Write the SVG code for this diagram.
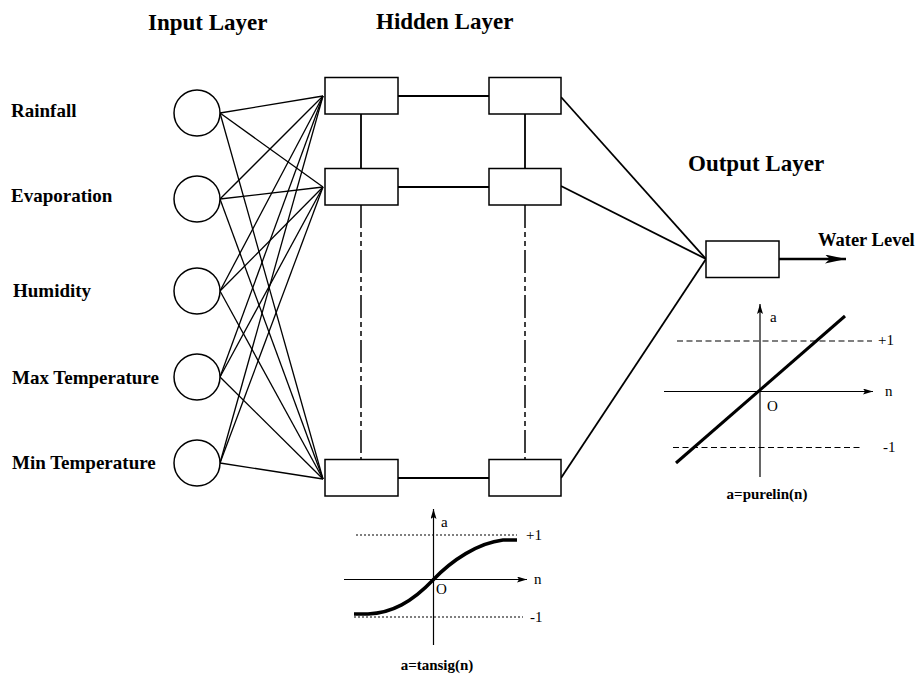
<svg xmlns="http://www.w3.org/2000/svg" width="917" height="676" viewBox="0 0 917 676">
<defs>
<style>
.title{font-family:"Liberation Serif","Times New Roman",serif;font-weight:bold;font-size:23px;fill:#000}
.lbl{font-family:"Liberation Serif","Times New Roman",serif;font-weight:bold;font-size:19px;fill:#000}
.fn{font-family:"Liberation Serif","Times New Roman",serif;font-weight:bold;font-size:15px;fill:#000}
.ax{font-family:"Liberation Serif","Times New Roman",serif;font-size:15px;fill:#000}
.node{fill:#fff;stroke:#000;stroke-width:1.5}
.edge{stroke:#000;stroke-width:1.3;fill:none}
.link{stroke:#000;stroke-width:1.8;fill:none}
.dd{stroke:#000;stroke-width:1.5;fill:none;stroke-dasharray:23 4 5 4 5 4}
.axis{stroke:#000;stroke-width:1.2;fill:none}
.dash{stroke:#000;stroke-width:1.2;fill:none;stroke-dasharray:6 3.5}
.dot{stroke:#000;stroke-width:1.2;fill:none;stroke-dasharray:2 2}
.curve{stroke:#000;stroke-width:3.5;fill:none}
</style>
<marker id="ah" viewBox="0 0 10 6" refX="10" refY="3" markerWidth="10" markerHeight="6" markerUnits="userSpaceOnUse" orient="auto">
<path d="M0,0 L10,3 L0,6 L2,3 Z" fill="#000"/>
</marker>
<marker id="ahBig" viewBox="0 0 21 9" refX="21" refY="4.5" markerWidth="21" markerHeight="9" markerUnits="userSpaceOnUse" orient="auto">
<path d="M0,0 L21,4.5 L0,9 L5,4.5 Z" fill="#000"/>
</marker>
</defs>
<rect width="917" height="676" fill="#fff"/>

<text class="title" x="148" y="30">Input Layer</text>
<text class="title" x="376" y="29">Hidden Layer</text>
<text class="title" x="688" y="171">Output Layer</text>

<g id="connectors">
<line class="edge" x1="220" y1="113" x2="323" y2="96"/>
<line class="edge" x1="220" y1="113" x2="323" y2="187"/>
<line class="edge" x1="220" y1="113" x2="323" y2="479"/>
<line class="edge" x1="220" y1="199" x2="323" y2="96"/>
<line class="edge" x1="220" y1="199" x2="323" y2="187"/>
<line class="edge" x1="220" y1="199" x2="323" y2="479"/>
<line class="edge" x1="220" y1="291" x2="323" y2="96"/>
<line class="edge" x1="220" y1="291" x2="323" y2="187"/>
<line class="edge" x1="220" y1="291" x2="323" y2="479"/>
<line class="edge" x1="220" y1="377" x2="323" y2="96"/>
<line class="edge" x1="220" y1="377" x2="323" y2="187"/>
<line class="edge" x1="220" y1="377" x2="323" y2="479"/>
<line class="edge" x1="220" y1="463" x2="323" y2="96"/>
<line class="edge" x1="220" y1="463" x2="323" y2="187"/>
<line class="edge" x1="220" y1="463" x2="323" y2="479"/>
<line class="link" x1="398" y1="96" x2="489" y2="96"/>
<line class="link" x1="398" y1="187" x2="489" y2="187"/>
<line class="link" x1="398" y1="478" x2="489" y2="478"/>
<line class="link" x1="361" y1="114" x2="361" y2="168"/>
<line class="link" x1="525" y1="114" x2="525" y2="168"/>
<line class="dd" x1="361" y1="205" x2="361" y2="459"/>
<line class="dd" x1="525" y1="205" x2="525" y2="459"/>
<line class="link" x1="561" y1="97" x2="706" y2="259"/>
<line class="link" x1="561" y1="186" x2="706" y2="259"/>
<line class="link" x1="561" y1="478" x2="706" y2="259"/>
<line x1="779" y1="259" x2="846" y2="259" stroke="#000" stroke-width="2.4" marker-end="url(#ahBig)"/>
</g>

<g id="in1"><circle class="node" cx="197" cy="113" r="23"/><text class="lbl" x="11" y="117">Rainfall</text></g>
<g id="in2"><circle class="node" cx="197" cy="199" r="23"/><text class="lbl" x="11" y="202">Evaporation</text></g>
<g id="in3"><circle class="node" cx="197" cy="291" r="23"/><text class="lbl" x="13" y="297">Humidity</text></g>
<g id="in4"><circle class="node" cx="197" cy="377" r="23"/><text class="lbl" x="12" y="384">Max Temperature</text></g>
<g id="in5"><circle class="node" cx="197" cy="463" r="23"/><text class="lbl" x="12" y="469">Min Temperature</text></g>

<g id="h11"><rect class="node" x="325" y="77.5" width="73" height="36.5"/></g>
<g id="h12"><rect class="node" x="325" y="168.5" width="73" height="36.5"/></g>
<g id="h1n"><rect class="node" x="325" y="459.5" width="73" height="36.5"/></g>
<g id="h21"><rect class="node" x="489" y="77.5" width="72" height="36.5"/></g>
<g id="h22"><rect class="node" x="489" y="168.5" width="72" height="36.5"/></g>
<g id="h2n"><rect class="node" x="489" y="459.5" width="72" height="36.5"/></g>

<g id="out"><rect class="node" x="706" y="241" width="73" height="36.5"/><text class="lbl" x="818" y="246" style="font-size:18.5px">Water Level</text></g>

<g id="tansig">
<line class="dot" x1="356" y1="535" x2="517" y2="535"/>
<line class="dot" x1="354" y1="617" x2="523" y2="617"/>
<line class="axis" x1="433.5" y1="645" x2="433.5" y2="509" marker-end="url(#ah)"/>
<line class="axis" x1="344" y1="579.5" x2="527" y2="579.5" marker-end="url(#ah)"/>
<path class="curve" d="M354,614 L368,614 C392,613 412,602 433,580 C452,560 478,543 503,540 L517,540"/>
<text class="ax" x="441" y="527">a</text>
<text class="ax" x="534" y="584">n</text>
<text class="ax" x="436" y="594">O</text>
<text class="ax" x="526" y="540">+1</text>
<text class="ax" x="530" y="622">-1</text>
<text class="fn" x="437" y="670" text-anchor="middle">a=tansig(n)</text>
</g>

<g id="purelin">
<line class="dash" x1="677" y1="341" x2="872" y2="341"/>
<line class="dash" x1="673" y1="447.5" x2="862" y2="447.5"/>
<line class="axis" x1="760" y1="477" x2="760" y2="304" marker-end="url(#ah)"/>
<line class="axis" x1="664" y1="391.5" x2="873" y2="391.5" marker-end="url(#ah)"/>
<line x1="676" y1="463" x2="845" y2="316" stroke="#000" stroke-width="3"/>
<text class="ax" x="770" y="322">a</text>
<text class="ax" x="885" y="396">n</text>
<text class="ax" x="767" y="411">O</text>
<text class="ax" x="878" y="345">+1</text>
<text class="ax" x="883" y="452">-1</text>
<text class="fn" x="767" y="499" text-anchor="middle">a=purelin(n)</text>
</g>
</svg>
